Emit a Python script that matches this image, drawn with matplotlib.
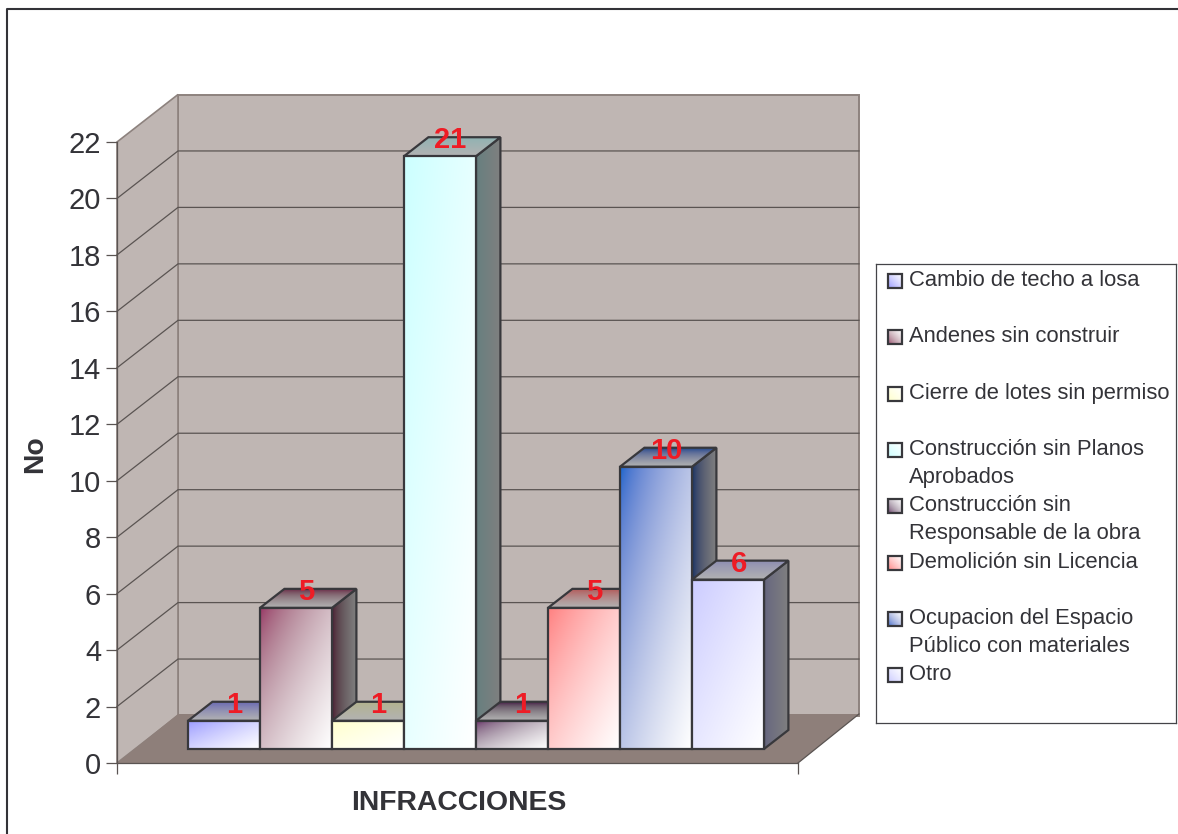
import numpy as np
import matplotlib
matplotlib.use("Agg")
import matplotlib.pyplot as plt
from matplotlib.lines import Line2D
from matplotlib.patches import Polygon

categories = ["Cambio de techo a losa", "Andenes sin construir", "Cierre de lotes sin permiso",
              "Construcción sin Planos\nAprobados", "Construcción sin\nResponsable de la obra",
              "Demolición sin Licencia", "Ocupacion del Espacio\nPúblico con materiales", "Otro"]
values = [1, 5, 1, 21, 1, 5, 10, 6]
colors = ["#9999FF", "#993366", "#FFFFCC", "#CCFFFF", "#660066", "#FF8080", "#0066CC", "#CCCCFF"]
y_ticks = list(range(0, 23, 2))
x_title = "INFRACCIONES"
y_title = "No"

W, H = 1178, 834
plt.rcParams["font.family"] = ["Liberation Sans", "DejaVu Sans"]
INK = "#333338"
fig = plt.figure(figsize=(W / 100, H / 100), dpi=100, facecolor="white")


def fx(px):
    return px / W


def fy(py):
    return 1 - py / H


# the front plane of the chart box
L, R, B, T = 117, 798, 763, 142
ax = fig.add_axes([fx(L), fy(B), (R - L) / W, (B - T) / H])
ax.set_autoscale_on(False)
ax.patch.set_visible(False)
PX_PER_X = 72.0
PX_PER_Y = (B - T) / 22.0
DEPTH_X_PX, DEPTH_Y_PX = 61.0, 47.5
DX, DY = DEPTH_X_PX / PX_PER_X, DEPTH_Y_PX / PX_PER_Y
D_FRONT, D_BACK = 14 / DEPTH_Y_PX, 33 / DEPTH_Y_PX
D_MID = (D_FRONT + D_BACK) / 2
BAR_W = 1.0
FIRST_CENTRE_PX = 224.0 - D_FRONT * DEPTH_X_PX
xmin = 1 - (FIRST_CENTRE_PX - L) / PX_PER_X
xmax = xmin + (R - L) / PX_PER_X
ax.set_xlim(xmin, xmax)
ax.set_ylim(0, 22)
FLOOR_LIFT = 1.5 / PX_PER_Y


def P(x, y, d):
    return (x + d * DX, y + d * DY)


WALL = "#BFB6B3"
FLOOR = "#8E7F7A"
WALL_EDGE = "#8D827E"
GRID = "#5A5452"

# walls and floor
ax.add_patch(Polygon([P(xmin, 0, 1), P(xmax, 0, 1), P(xmax, 22, 1), P(xmin, 22, 1)], closed=True,
                     fc=WALL, ec=WALL_EDGE, lw=1.4, clip_on=False, zorder=1))
ax.add_patch(Polygon([P(xmin, 0, 0), P(xmin, 0, 1), P(xmin, 22, 1), P(xmin, 22, 0)], closed=True,
                     fc=WALL, ec=WALL_EDGE, lw=1.2, clip_on=False, zorder=1))
fb_l, fb_r = P(xmin, FLOOR_LIFT, 1), P(xmax, FLOOR_LIFT, 1)
ax.add_patch(Polygon([P(xmin, 0, 0), P(xmax, 0, 0), fb_r, fb_l], closed=True,
                     fc=FLOOR, ec="none", clip_on=False, zorder=1.2))
ax.plot(*zip(P(xmax, 0, 0), fb_r), color=GRID, lw=0.9, clip_on=False, zorder=1.3)
for t in y_ticks[1:-1]:
    pts = [P(xmin, t, 0), P(xmin, t, 1), P(xmax, t, 1)]
    ax.plot(*zip(*pts), color=GRID, lw=0.9, clip_on=False, zorder=1.4)


def hex_rgb(c):
    return np.array(matplotlib.colors.to_rgb(c))


def gradient(c, shade, mode):
    """Blend the series colour to neutral in linear light, as the original renderer did."""
    n = 80
    u, v = np.meshgrid(np.linspace(0, 1, n), np.linspace(0, 1, n))
    if mode == "diag":
        t = (u + v) / 2
    elif mode == "horiz":
        t = u
    else:
        t = v
    g = 2.2
    base = (hex_rgb(c) * shade) ** g
    end = np.array([shade, shade, shade]) ** g
    mix = base[None, None, :] * (1 - t[..., None]) + end[None, None, :] * t[..., None]
    return mix ** (1 / g)


def face(axes, pts, c, shade, mode, z):
    xs, ys = zip(*pts)
    poly = Polygon(pts, closed=True, transform=axes.transData, fc="none", ec="none")
    im = axes.imshow(gradient(c, shade, mode), extent=(min(xs), max(xs), min(ys), max(ys)),
                     origin="upper", aspect="auto", interpolation="bilinear", zorder=z)
    im.set_clip_box(fig.bbox)
    im.set_clip_path(poly)
    axes.add_patch(Polygon(pts, closed=True, fc="none", ec="#38383C", lw=1.6, joinstyle="miter",
                           clip_on=False, zorder=z + 0.01))


for i, (v, c) in enumerate(zip(values, colors)):
    x0, x1 = i + 1 - BAR_W / 2, i + 1 + BAR_W / 2
    z = 2 + i * 0.1
    face(ax, [P(x1, 0, D_FRONT), P(x1, 0, D_BACK), P(x1, v, D_BACK), P(x1, v, D_FRONT)], c, 0.5, "horiz", z)
    face(ax, [P(x0, v, D_FRONT), P(x1, v, D_FRONT), P(x1, v, D_BACK), P(x0, v, D_BACK)], c, 0.7, "vert", z + 0.02)
    face(ax, [P(x0, 0, D_FRONT), P(x1, 0, D_FRONT), P(x1, v, D_FRONT), P(x0, v, D_FRONT)], c, 1.0, "diag", z + 0.04)

for i, v in enumerate(values):
    ax.annotate(str(v), xy=P(i + 1, v, D_MID), xytext=(-1.2, -1), textcoords="offset points",
                ha="center", va="baseline", color="#EE1C25", fontsize=21, fontweight="bold",
                annotation_clip=False, zorder=5)

# axes furniture
ax.set_yticks(y_ticks)
ax.set_xticks([xmin, xmax])
ax.set_xticklabels([])
ax.tick_params(axis="y", length=8, width=0.9, color=GRID, labelsize=21, labelcolor=INK, pad=3.5)
ax.tick_params(axis="x", length=8, width=0.9, color=GRID)
for s in ("top", "right"):
    ax.spines[s].set_visible(False)
for s in ("left", "bottom"):
    ax.spines[s].set_color(GRID)
    ax.spines[s].set_linewidth(0.9)
    ax.spines[s].set_zorder(1.5)

fig.text(fx(459), fy(810), x_title, ha="center", va="baseline", fontsize=20.4, fontweight="bold", color=INK)
fig.text(fx(35), fy(454), y_title, ha="center", va="center", rotation=90, fontsize=20.4, fontweight="bold", color=INK)

# legend box
lg_l, lg_r, lg_t, lg_b = 876, 1176, 264, 723
lax = fig.add_axes([fx(lg_l), fy(lg_b), (lg_r - lg_l) / W, (lg_b - lg_t) / H])
lax.set_autoscale_on(False)
lax.set_xticks([])
lax.set_yticks([])
for s in lax.spines.values():
    s.set_color("#444448")
    s.set_linewidth(0.9)

ROW = 56.3
for k, (name, c) in enumerate(zip(categories, colors)):
    yc = 14 + ROW * k
    x_a, x_b, y_a, y_b = 12, 26, yc - 5 + 1, yc + 9 + 1
    face(lax, [(x_a, y_a), (x_b, y_a), (x_b, y_b), (x_a, y_b)], c, 1.0, "diag", 3)
    lax.text(33, yc - 8, name, ha="left", va="top", fontsize=15.8, color=INK, linespacing=1.42, zorder=4)
lax.set_xlim(0, lg_r - lg_l)
lax.set_ylim(lg_b - lg_t, 0)

ax.set_xlim(xmin, xmax)
ax.set_ylim(0, 22)

# outer frame: only the left and top edges fall inside the picture
fig.add_artist(Line2D([fx(6.5), fx(6.5), 1], [0, fy(9), fy(9)], color="#333338", lw=1.5, transform=fig.transFigure))

fig.savefig("out.png", dpi=100, facecolor="white")
